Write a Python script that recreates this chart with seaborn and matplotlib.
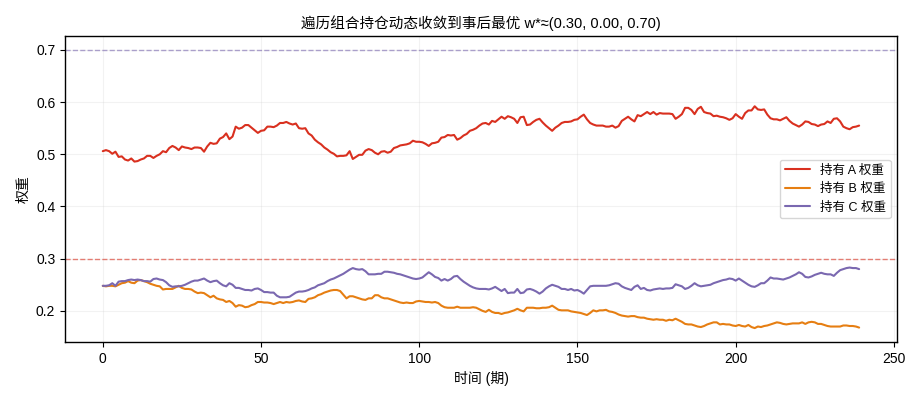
import numpy as np
import pandas as pd
import seaborn as sns
import matplotlib
matplotlib.use('Agg')
import matplotlib.pyplot as plt

# weights, one value per period
periods = list(range(240))

weight_a = [
    0.506, 0.508, 0.506, 0.501, 0.505, 0.495, 0.496, 0.490, 0.488, 0.492,
    0.486, 0.487, 0.490, 0.492, 0.497, 0.497, 0.493, 0.497, 0.500, 0.506,
    0.504, 0.512, 0.516, 0.513, 0.508, 0.515, 0.513, 0.512, 0.510, 0.513,
    0.513, 0.512, 0.505, 0.515, 0.522, 0.520, 0.521, 0.530, 0.533, 0.540,
    0.529, 0.534, 0.553, 0.549, 0.551, 0.556, 0.556, 0.551, 0.546, 0.541,
    0.545, 0.546, 0.553, 0.553, 0.552, 0.555, 0.560, 0.560, 0.562, 0.559,
    0.557, 0.559, 0.550, 0.549, 0.550, 0.540, 0.536, 0.528, 0.523, 0.519,
    0.513, 0.509, 0.504, 0.501, 0.496, 0.497, 0.497, 0.498, 0.506, 0.491,
    0.495, 0.499, 0.499, 0.507, 0.510, 0.508, 0.503, 0.500, 0.505, 0.506,
    0.503, 0.505, 0.512, 0.514, 0.517, 0.518, 0.519, 0.521, 0.526, 0.524,
    0.524, 0.523, 0.520, 0.516, 0.521, 0.522, 0.524, 0.532, 0.533, 0.537,
    0.536, 0.537, 0.528, 0.531, 0.536, 0.539, 0.545, 0.547, 0.550, 0.555,
    0.559, 0.560, 0.557, 0.564, 0.562, 0.567, 0.572, 0.568, 0.573, 0.571,
    0.568, 0.560, 0.571, 0.572, 0.556, 0.557, 0.562, 0.566, 0.568, 0.561,
    0.555, 0.550, 0.545, 0.551, 0.555, 0.560, 0.562, 0.562, 0.563, 0.566,
    0.567, 0.572, 0.576, 0.567, 0.560, 0.557, 0.555, 0.555, 0.555, 0.553,
    0.553, 0.555, 0.551, 0.554, 0.564, 0.568, 0.572, 0.567, 0.563, 0.575,
    0.573, 0.577, 0.581, 0.577, 0.581, 0.576, 0.579, 0.578, 0.578, 0.578,
    0.577, 0.568, 0.572, 0.577, 0.589, 0.589, 0.585, 0.577, 0.587, 0.591,
    0.581, 0.579, 0.578, 0.573, 0.574, 0.572, 0.571, 0.569, 0.566, 0.569,
    0.577, 0.572, 0.568, 0.579, 0.584, 0.584, 0.592, 0.586, 0.585, 0.586,
    0.576, 0.569, 0.567, 0.567, 0.565, 0.568, 0.571, 0.564, 0.559, 0.556,
    0.553, 0.557, 0.563, 0.562, 0.558, 0.557, 0.554, 0.557, 0.558, 0.563,
    0.560, 0.568, 0.569, 0.563, 0.553, 0.550, 0.548, 0.552, 0.553, 0.555,
]

weight_b = [
    0.248, 0.247, 0.248, 0.248, 0.247, 0.250, 0.253, 0.254, 0.257, 0.254,
    0.253, 0.258, 0.259, 0.257, 0.255, 0.252, 0.250, 0.248, 0.247, 0.241,
    0.242, 0.242, 0.242, 0.245, 0.248, 0.244, 0.242, 0.242, 0.241, 0.237,
    0.234, 0.235, 0.234, 0.230, 0.226, 0.229, 0.224, 0.222, 0.221, 0.217,
    0.219, 0.215, 0.208, 0.211, 0.210, 0.207, 0.208, 0.211, 0.213, 0.217,
    0.217, 0.216, 0.216, 0.215, 0.213, 0.215, 0.217, 0.215, 0.217, 0.216,
    0.217, 0.219, 0.220, 0.218, 0.217, 0.223, 0.224, 0.226, 0.230, 0.232,
    0.235, 0.237, 0.239, 0.240, 0.240, 0.238, 0.231, 0.224, 0.228, 0.228,
    0.226, 0.224, 0.222, 0.221, 0.224, 0.224, 0.230, 0.230, 0.226, 0.224,
    0.224, 0.222, 0.220, 0.218, 0.216, 0.215, 0.216, 0.215, 0.215, 0.218,
    0.219, 0.218, 0.217, 0.217, 0.216, 0.217, 0.215, 0.210, 0.207, 0.206,
    0.206, 0.206, 0.208, 0.206, 0.206, 0.206, 0.206, 0.207, 0.206, 0.203,
    0.200, 0.198, 0.202, 0.198, 0.196, 0.196, 0.194, 0.196, 0.197, 0.199,
    0.201, 0.204, 0.201, 0.199, 0.206, 0.206, 0.206, 0.205, 0.205, 0.206,
    0.206, 0.207, 0.210, 0.206, 0.202, 0.201, 0.201, 0.201, 0.199, 0.198,
    0.197, 0.196, 0.194, 0.192, 0.196, 0.201, 0.199, 0.201, 0.201, 0.202,
    0.199, 0.198, 0.196, 0.193, 0.191, 0.190, 0.189, 0.190, 0.190, 0.188,
    0.187, 0.187, 0.185, 0.184, 0.183, 0.184, 0.183, 0.183, 0.181, 0.183,
    0.182, 0.185, 0.182, 0.179, 0.175, 0.174, 0.174, 0.172, 0.170, 0.169,
    0.171, 0.174, 0.176, 0.178, 0.178, 0.174, 0.175, 0.174, 0.174, 0.172,
    0.171, 0.173, 0.171, 0.170, 0.173, 0.169, 0.167, 0.170, 0.169, 0.171,
    0.172, 0.174, 0.176, 0.178, 0.177, 0.175, 0.174, 0.175, 0.176, 0.176,
    0.176, 0.178, 0.175, 0.178, 0.179, 0.178, 0.175, 0.175, 0.173, 0.171,
    0.170, 0.170, 0.170, 0.170, 0.172, 0.172, 0.171, 0.171, 0.170, 0.168,
]

weight_c = [
    0.248, 0.248, 0.249, 0.253, 0.248, 0.256, 0.257, 0.257, 0.259, 0.260,
    0.259, 0.260, 0.259, 0.257, 0.257, 0.256, 0.261, 0.262, 0.260, 0.259,
    0.255, 0.249, 0.246, 0.247, 0.247, 0.248, 0.250, 0.253, 0.256, 0.258,
    0.258, 0.260, 0.262, 0.258, 0.255, 0.257, 0.258, 0.253, 0.249, 0.247,
    0.253, 0.250, 0.244, 0.244, 0.242, 0.240, 0.240, 0.239, 0.242, 0.243,
    0.240, 0.236, 0.236, 0.235, 0.235, 0.229, 0.226, 0.226, 0.226, 0.227,
    0.231, 0.235, 0.237, 0.237, 0.238, 0.240, 0.243, 0.245, 0.249, 0.251,
    0.253, 0.257, 0.260, 0.262, 0.265, 0.268, 0.271, 0.275, 0.279, 0.282,
    0.280, 0.279, 0.280, 0.276, 0.270, 0.270, 0.270, 0.271, 0.271, 0.275,
    0.275, 0.274, 0.273, 0.271, 0.270, 0.268, 0.266, 0.264, 0.262, 0.261,
    0.262, 0.264, 0.269, 0.274, 0.270, 0.265, 0.263, 0.258, 0.261, 0.258,
    0.261, 0.266, 0.267, 0.261, 0.256, 0.252, 0.248, 0.245, 0.243, 0.242,
    0.242, 0.242, 0.241, 0.243, 0.246, 0.242, 0.238, 0.242, 0.234, 0.235,
    0.235, 0.242, 0.234, 0.235, 0.241, 0.242, 0.240, 0.237, 0.233, 0.237,
    0.243, 0.247, 0.250, 0.248, 0.246, 0.242, 0.242, 0.240, 0.242, 0.239,
    0.240, 0.237, 0.233, 0.240, 0.247, 0.248, 0.248, 0.248, 0.248, 0.248,
    0.249, 0.251, 0.253, 0.252, 0.247, 0.244, 0.242, 0.240, 0.246, 0.249,
    0.242, 0.244, 0.240, 0.239, 0.241, 0.242, 0.243, 0.242, 0.243, 0.243,
    0.244, 0.251, 0.249, 0.247, 0.242, 0.244, 0.248, 0.253, 0.249, 0.247,
    0.248, 0.249, 0.250, 0.253, 0.255, 0.257, 0.259, 0.260, 0.262, 0.261,
    0.258, 0.262, 0.258, 0.254, 0.250, 0.247, 0.246, 0.249, 0.253, 0.253,
    0.258, 0.264, 0.262, 0.262, 0.261, 0.260, 0.262, 0.264, 0.267, 0.270,
    0.274, 0.271, 0.265, 0.264, 0.266, 0.269, 0.271, 0.273, 0.271, 0.270,
    0.270, 0.267, 0.273, 0.278, 0.280, 0.282, 0.283, 0.282, 0.282, 0.280,
]

labels = ['持有 A 权重', '持有 B 权重', '持有 C 权重']
colors = ['#d9301f', '#e67e12', '#7a68b0']
w_star = [0.30, 0.00, 0.70]


def main():
    sns.set_style('ticks')
    plt.rcParams['font.family'] = ['Liberation Sans', 'Noto Sans CJK SC', 'DejaVu Sans']
    plt.rcParams['axes.unicode_minus'] = False
    plt.rcParams['text.color'] = 'black'
    plt.rcParams['axes.labelcolor'] = 'black'

    df = pd.DataFrame({
        'period': periods * 3,
        'weight': weight_a + weight_b + weight_c,
        'asset': [labels[0]] * 240 + [labels[1]] * 240 + [labels[2]] * 240,
    })

    fig, ax = plt.subplots(figsize=(9.19, 4.0), dpi=100)
    sns.lineplot(data=df, x='period', y='weight', hue='asset', hue_order=labels,
                 palette=colors, linewidth=1.5, ax=ax)

    # hindsight-optimal targets for A and C (B target 0 is off the range)
    ax.axhline(w_star[0], color=colors[0], ls='--', lw=1, alpha=0.6)
    ax.axhline(w_star[2], color=colors[2], ls='--', lw=1, alpha=0.6)

    ax.grid(True, alpha=0.25)
    for s in ax.spines.values():
        s.set_color('black')
        s.set_linewidth(1.0)
    ax.tick_params(colors='black', labelsize=10)

    ax.set_title('遍历组合持仓动态收敛到事后最优 w*≈(0.30, 0.00, 0.70)', fontsize=10.5, color='black')
    ax.set_xlabel('时间 (期)', fontsize=10)
    ax.set_ylabel('权重', fontsize=10)
    leg = ax.legend(loc='center right', fontsize=9, frameon=True)
    for txt in leg.get_texts():
        txt.set_color('black')

    fig.subplots_adjust(left=0.0707, right=0.976, top=0.91, bottom=0.145)
    fig.savefig('out.png', dpi=100)


if __name__ == '__main__':
    main()
